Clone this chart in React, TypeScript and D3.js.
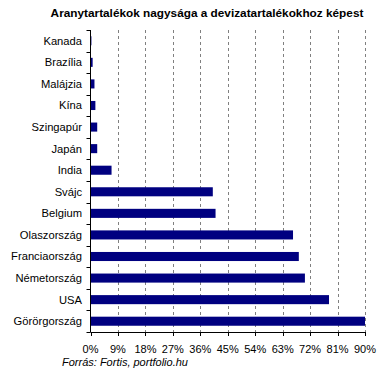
import * as d3 from 'd3';

const countries = [
  'Kanada', 'Brazília', 'Malájzia', 'Kína', 'Szingapúr', 'Japán', 'India',
  'Svájc', 'Belgium', 'Olaszország', 'Franciaország', 'Németország', 'USA', 'Görörgország',
];
const goldShare = [0.3, 0.7, 1.3, 1.6, 2.2, 2.2, 6.9, 40.1, 41.0, 66.4, 68.3, 70.3, 78.2, 90];
const tickValues = [0, 9, 18, 27, 36, 45, 54, 63, 72, 81, 90];

const W = 382;
const H = 372;
const left = 90.5;
const right = 365;
const top = 30;
const bottom = 332;

export default function App() {
  const x = d3.scaleLinear().domain([0, 90]).range([left, right]);
  const y = d3.scaleBand().domain(countries).range([top, bottom]).paddingInner(0.58).paddingOuter(0.29);
  const step = y.step();
  const font = 'Arial, "Liberation Sans", sans-serif';

  return (
    <svg width={W} height={H} style={{ position: 'absolute', left: 0, top: 0, background: '#fff' }}>
      <text x={207} y={17} textAnchor="middle" fontFamily={font} fontWeight="bold" fontSize={11.8}>
        Aranytartalékok nagysága a devizatartalékokhoz képest
      </text>

      {/* dashed grid */}
      {tickValues.slice(1).map(t => (
        <line key={t} x1={Math.round(x(t)) + 0.5} x2={Math.round(x(t)) + 0.5} y1={top} y2={bottom}
          stroke="#808080" strokeDasharray="3 3" />
      ))}

      {/* bars */}
      {countries.map((c, i) => (
        <rect key={c} x={x(0)} y={y(c)!} width={Math.min(x(goldShare[i]), right) - x(0)} height={y.bandwidth()} fill="#000080" />
      ))}

      {/* vertical axis */}
      <line x1={left} x2={left} y1={top} y2={bottom} stroke="#000" />
      {d3.range(countries.length + 1).map(i => (
        <line key={i} x1={left - 4} x2={left} y1={Math.round(top + i * step) + 0.5} y2={Math.round(top + i * step) + 0.5} stroke="#000" />
      ))}
      {countries.map(c => (
        <text key={c} x={82} y={y(c)! + y.bandwidth() / 2} dy="0.35em" textAnchor="end" fontFamily={font} fontSize={11.2}>
          {c}
        </text>
      ))}

      {/* horizontal axis */}
      <line x1={left} x2={right} y1={bottom + 0.5} y2={bottom + 0.5} stroke="#000" />
      {tickValues.map(t => (
        <g key={t}>
          <line x1={Math.round(x(t)) + 0.5} x2={Math.round(x(t)) + 0.5} y1={bottom} y2={bottom + 4} stroke="#000" />
          <text x={x(t)} y={352.5} textAnchor="middle" fontFamily={font} fontSize={11}>{t}%</text>
        </g>
      ))}

      <text x={62} y={366} fontFamily={font} fontStyle="italic" fontSize={11}>Forrás: Fortis, portfolio.hu</text>
    </svg>
  );
}
